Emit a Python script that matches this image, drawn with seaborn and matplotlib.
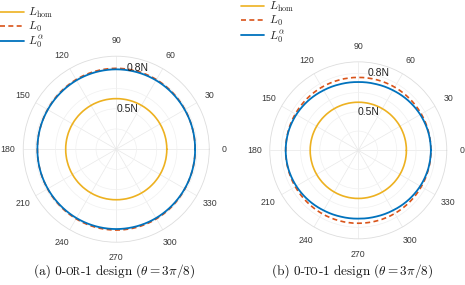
import numpy as np
import matplotlib
matplotlib.use("Agg")
import matplotlib.pyplot as plt
import seaborn as sns
import pandas as pd

# angles in degrees (closed by repeating the first point when drawing)
angles_deg = [0, 15, 30, 45, 60, 75, 90, 105, 120, 135, 150, 165,
              180, 195, 210, 225, 240, 255, 270, 285, 300, 315, 330, 345]

# (a) 0-or-1 design
a_hom = [0.5, 0.5, 0.5, 0.5, 0.5, 0.5, 0.5, 0.5, 0.5, 0.5, 0.5, 0.5,
         0.5, 0.5, 0.5, 0.5, 0.5, 0.5, 0.5, 0.5, 0.5, 0.5, 0.5, 0.5]
a_L0 = [0.780, 0.781, 0.784, 0.790, 0.795, 0.799, 0.800, 0.799, 0.795, 0.790, 0.784, 0.781,
        0.780, 0.781, 0.784, 0.790, 0.795, 0.799, 0.800, 0.799, 0.795, 0.790, 0.784, 0.781]
a_L0a = [0.780, 0.781, 0.782, 0.784, 0.787, 0.789, 0.790, 0.789, 0.787, 0.784, 0.782, 0.781,
         0.780, 0.781, 0.782, 0.784, 0.787, 0.789, 0.790, 0.789, 0.787, 0.784, 0.782, 0.781]

# (b) 0-to-1 design
b_hom = [0.5, 0.5, 0.5, 0.5, 0.5, 0.5, 0.5, 0.5, 0.5, 0.5, 0.5, 0.5,
         0.5, 0.5, 0.5, 0.5, 0.5, 0.5, 0.5, 0.5, 0.5, 0.5, 0.5, 0.5]
b_L0 = [0.755, 0.755, 0.756, 0.757, 0.758, 0.758, 0.758, 0.758, 0.758, 0.757, 0.756, 0.755,
        0.755, 0.755, 0.756, 0.757, 0.758, 0.758, 0.758, 0.758, 0.758, 0.757, 0.756, 0.755]
b_L0a = [0.755, 0.752, 0.744, 0.733, 0.721, 0.713, 0.710, 0.713, 0.721, 0.733, 0.744, 0.752,
         0.755, 0.752, 0.744, 0.733, 0.721, 0.713, 0.710, 0.713, 0.721, 0.733, 0.744, 0.752]

series_labels = [r"$L_{\rm hom}$", r"$L_0$", r"$L_0^{\alpha}$"]
captions = [("(a) 0-", "OR", r"-1 design ($\theta = 3\pi/8$)"),
            ("(b) 0-", "TO", r"-1 design ($\theta = 3\pi/8$)")]

sns.set_style("whitegrid")
plt.rcParams["font.family"] = ["Liberation Sans", "DejaVu Sans"]
plt.rcParams["mathtext.fontset"] = "cm"

c_hom = "#EDB120"
c_L0 = "#D95319"
c_L0a = "#0072BD"

fig = plt.figure(figsize=(4.65, 2.85), dpi=100)
ax_a = fig.add_axes([0.050, 0.150, 0.400, 0.653], projection="polar")
ax_b = fig.add_axes([0.580, 0.162, 0.381, 0.621], projection="polar")


def draw_panel(ax, hom, L0, L0a):
    th = np.deg2rad(angles_deg + [360])
    df = pd.DataFrame({
        "theta": np.concatenate([th, th, th]),
        "r": hom + hom[:1] + L0 + L0[:1] + L0a + L0a[:1],
        "curve": [series_labels[0]] * len(th) + [series_labels[1]] * len(th)
                 + [series_labels[2]] * len(th),
    })
    sns.lineplot(data=df[df.curve == series_labels[0]], x="theta", y="r", ax=ax,
                 color=c_hom, lw=1.2, sort=False, label=series_labels[0])
    sns.lineplot(data=df[df.curve == series_labels[1]], x="theta", y="r", ax=ax,
                 color=c_L0, lw=1.2, ls=(0, (3, 2)), sort=False, label=series_labels[1])
    sns.lineplot(data=df[df.curve == series_labels[2]], x="theta", y="r", ax=ax,
                 color=c_L0a, lw=1.3, sort=False, label=series_labels[2])
    # let the polar transform draw curved segments between the points
    for line in ax.lines:
        line.get_path()._interpolation_steps = 30
    ax.set_ylim(0, 0.92)
    ax.set_xticks(np.deg2rad(np.arange(0, 360, 30)))
    ax.set_xticklabels([str(d) for d in range(0, 360, 30)], fontsize=6.3, color="#3a3a3a")
    ax.set_yticks([0.2, 0.4, 0.6, 0.8])
    ax.set_yticklabels([])
    ax.tick_params(axis="x", pad=0.5)
    ax.grid(True, color="#E8E8E8", lw=0.5)
    ax.yaxis.grid(True, color="#F0F0F0", lw=0.5)
    ax.spines["polar"].set_color("#DDDDDD")
    ax.spines["polar"].set_linewidth(0.6)
    ax.set_xlabel("")
    ax.set_ylabel("")
    ax.text(np.deg2rad(75), 0.83, "0.8N", fontsize=7.5, ha="center", va="center", color="#222222")
    ax.text(np.deg2rad(75), 0.415, "0.5N", fontsize=7.5, ha="center", va="center", color="#222222")
    handles, labels = ax.get_legend_handles_labels()
    ax.get_legend().remove()
    return handles, labels


h_a, l_a = draw_panel(ax_a, a_hom, a_L0, a_L0a)
h_b, l_b = draw_panel(ax_b, b_hom, b_L0, b_L0a)

leg_kw = dict(loc="upper left", frameon=False, fontsize=8.5, handlelength=2.0,
              handletextpad=0.4, labelspacing=0.0, borderpad=0, borderaxespad=0)
fig.legend(h_a, l_a, bbox_to_anchor=(0.0, 0.98), **leg_kw)
fig.legend(h_b, l_b, bbox_to_anchor=(0.518, 1.0), **leg_kw)


def caption(xc, parts, y=0.035):
    serif = dict(family="cmr10", fontsize=9.5, va="baseline", color="#111111")
    t1 = fig.text(xc, y, parts[0], ha="left", **serif)
    t2 = fig.text(0, y, parts[1], ha="left", family="cmr10", fontsize=7.2,
                  va="baseline", color="#111111")
    t3 = fig.text(0, y, parts[2], ha="left", **serif)
    fig.canvas.draw()
    r = fig.canvas.get_renderer()
    inv = fig.transFigure.inverted()
    b1 = t1.get_window_extent(r)
    t2.set_x(inv.transform((b1.x1, 0))[0] - 0.002)
    b2 = t2.get_window_extent(r)
    t3.set_x(inv.transform((b2.x1, 0))[0] - 0.001)
    b3 = t3.get_window_extent(r)
    w = inv.transform((b3.x1, 0))[0] - xc
    for t in (t1, t2, t3):
        t.set_x(t.get_position()[0] - w / 2)


caption(0.247, captions[0])
caption(0.758, captions[1])

fig.savefig("out.png", dpi=100)
